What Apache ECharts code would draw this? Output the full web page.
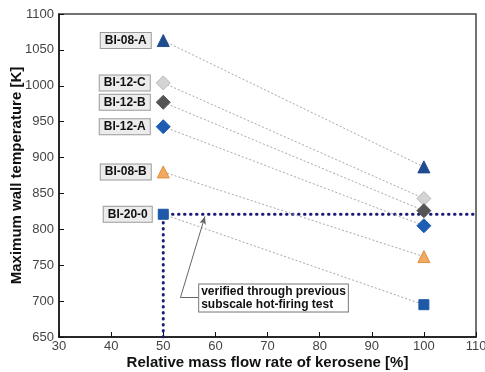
<!DOCTYPE html>
<html>
<head>
<meta charset="utf-8">
<script src="https://cdn.jsdelivr.net/npm/echarts@6/dist/echarts.min.js"></script>
<style>html,body{margin:0;padding:0;background:#fff}#c{width:485px;height:372px}</style>
</head>
<body>
<div id="c"></div>
<script>
// Data
const caseNames = ['BI-08-A', 'BI-12-C', 'BI-12-B', 'BI-12-A', 'BI-08-B', 'BI-20-0'];
const flowRates = [50, 100];
const temp0808A = [1063, 887];
const temp12C = [1004, 843];
const temp12B = [977, 826];
const temp12A = [943, 805];
const temp08B = [880, 762];
const temp20 = [821, 695];
const refLineX = [50, 50, 110];
const refLineY = [650, 821, 821];
const noteText = ['verified through previous', 'subscale hot-firing test'];
const noteArrowX = [56.7, 53.3, 58.0];
const noteArrowY = [705, 705, 818];
const xTicks = {min: 30, max: 110, interval: 10};
const yTicks = {min: 650, max: 1100, interval: 50};

const seriesValues = [temp0808A, temp12C, temp12B, temp12A, temp08B, temp20];
const styles = [
  {symbol: 'triangle', size: 12, color: '#1f4b8f', border: '#1f4b8f'},
  {symbol: 'diamond', size: 14, color: '#d4d4d4', border: '#b8b8b8'},
  {symbol: 'diamond', size: 14, color: '#555555', border: '#555555'},
  {symbol: 'diamond', size: 14, color: '#1c5db3', border: '#1c5db3'},
  {symbol: 'triangle', size: 12, color: '#f2a960', border: '#d99040'},
  {symbol: 'rect', size: 10, color: '#1e58a8', border: '#1e58a8'}
];

const FONT = '"Liberation Sans", Arial, sans-serif';

const series = [];
// reference dotted navy line
series.push({
  type: 'line',
  data: refLineX.map((x, i) => [x, refLineY[i]]),
  symbol: 'none',
  lineStyle: {color: '#1a1a78', width: 3, type: [0.5, 5.5], cap: 'round'},
  z: 1,
  silent: true
});
seriesValues.forEach((vals, i) => {
  const st = styles[i];
  series.push({
    type: 'line',
    name: caseNames[i],
    symbol: st.symbol,
    symbolSize: st.size,
    itemStyle: {color: st.color, borderColor: st.border, borderWidth: 1},
    lineStyle: {color: '#a8a8a8', width: 1, type: [2, 2]},
    z: 3,
    data: flowRates.map((x, j) => ({
      value: [x, vals[j]],
      label: j === 0 ? {
        show: true, position: 'left', distance: 6,
        formatter: caseNames[i],
        fontFamily: FONT, fontWeight: 'bold', fontSize: 12, color: '#111',
        backgroundColor: '#ececec', borderColor: '#9a9a9a', borderWidth: 1,
        padding: [2, 4, 1, 4]
      } : {show: false}
    }))
  });
});
// annotation arrow
series.push({
  type: 'line',
  data: [],
  markLine: {
    silent: true,
    animation: false,
    label: {show: false},
    lineStyle: {color: '#666', width: 1, type: 'solid'},
    data: [
      [{coord: [noteArrowX[0], noteArrowY[0]], symbol: 'none'}, {coord: [noteArrowX[1], noteArrowY[1]], symbol: 'none'}],
      [{coord: [noteArrowX[1], noteArrowY[1]], symbol: 'none'}, {coord: [noteArrowX[2], noteArrowY[2]], symbol: 'arrow', symbolSize: [5, 8]}]
    ]
  }
});

const chart = echarts.init(document.getElementById('c'), null, {renderer: 'canvas'});
chart.setOption({
  animation: false,
  backgroundColor: '#fff',
  grid: {left: 59, right: 9, top: 14, bottom: 35, containLabel: false, outerBoundsMode: 'none',
         show: true, borderColor: '#444', borderWidth: 1.5, backgroundColor: 'transparent'},
  xAxis: {
    type: 'value', min: xTicks.min, max: xTicks.max, interval: xTicks.interval,
    name: 'Relative mass flow rate of kerosene [%]', nameLocation: 'middle', nameGap: 18,
    nameMoveOverlap: false,
    nameTextStyle: {fontFamily: FONT, fontWeight: 'bold', fontSize: 15, color: '#111'},
    axisLine: {show: true, lineStyle: {color: '#111', width: 1.5}},
    axisTick: {show: true, inside: true, length: 5, lineStyle: {color: '#111'}},
    axisLabel: {fontFamily: FONT, fontSize: 13, color: '#444', margin: 3, formatter: v => String(v)},
    splitLine: {show: false}
  },
  yAxis: {
    type: 'value', min: yTicks.min, max: yTicks.max, interval: yTicks.interval,
    name: 'Maximum wall temperature [K]', nameLocation: 'middle', nameGap: 35,
    nameMoveOverlap: false,
    nameTextStyle: {fontFamily: FONT, fontWeight: 'bold', fontSize: 15, color: '#111'},
    axisLine: {show: true, lineStyle: {color: '#111', width: 1.5}},
    axisTick: {show: true, inside: true, length: 5, lineStyle: {color: '#111'}},
    axisLabel: {fontFamily: FONT, fontSize: 13, color: '#444', margin: 5, formatter: v => String(v)},
    splitLine: {show: false}
  },
  series: series
});

// annotation box positioned from data coordinates
const p = chart.convertToPixel({gridIndex: 0}, [noteArrowX[0], noteArrowY[0]]);
chart.setOption({
  graphic: [{
    type: 'text',
    left: p[0], top: p[1] - 14,
    z: 10,
    style: {
      text: noteText.join('\n'),
      fontFamily: FONT, fontWeight: 'bold', fontSize: 12, lineHeight: 13,
      fill: '#111',
      backgroundColor: '#fff', borderColor: '#777', borderWidth: 1,
      padding: [1, 2, 0, 2]
    }
  }]
});
</script>
</body>
</html>
